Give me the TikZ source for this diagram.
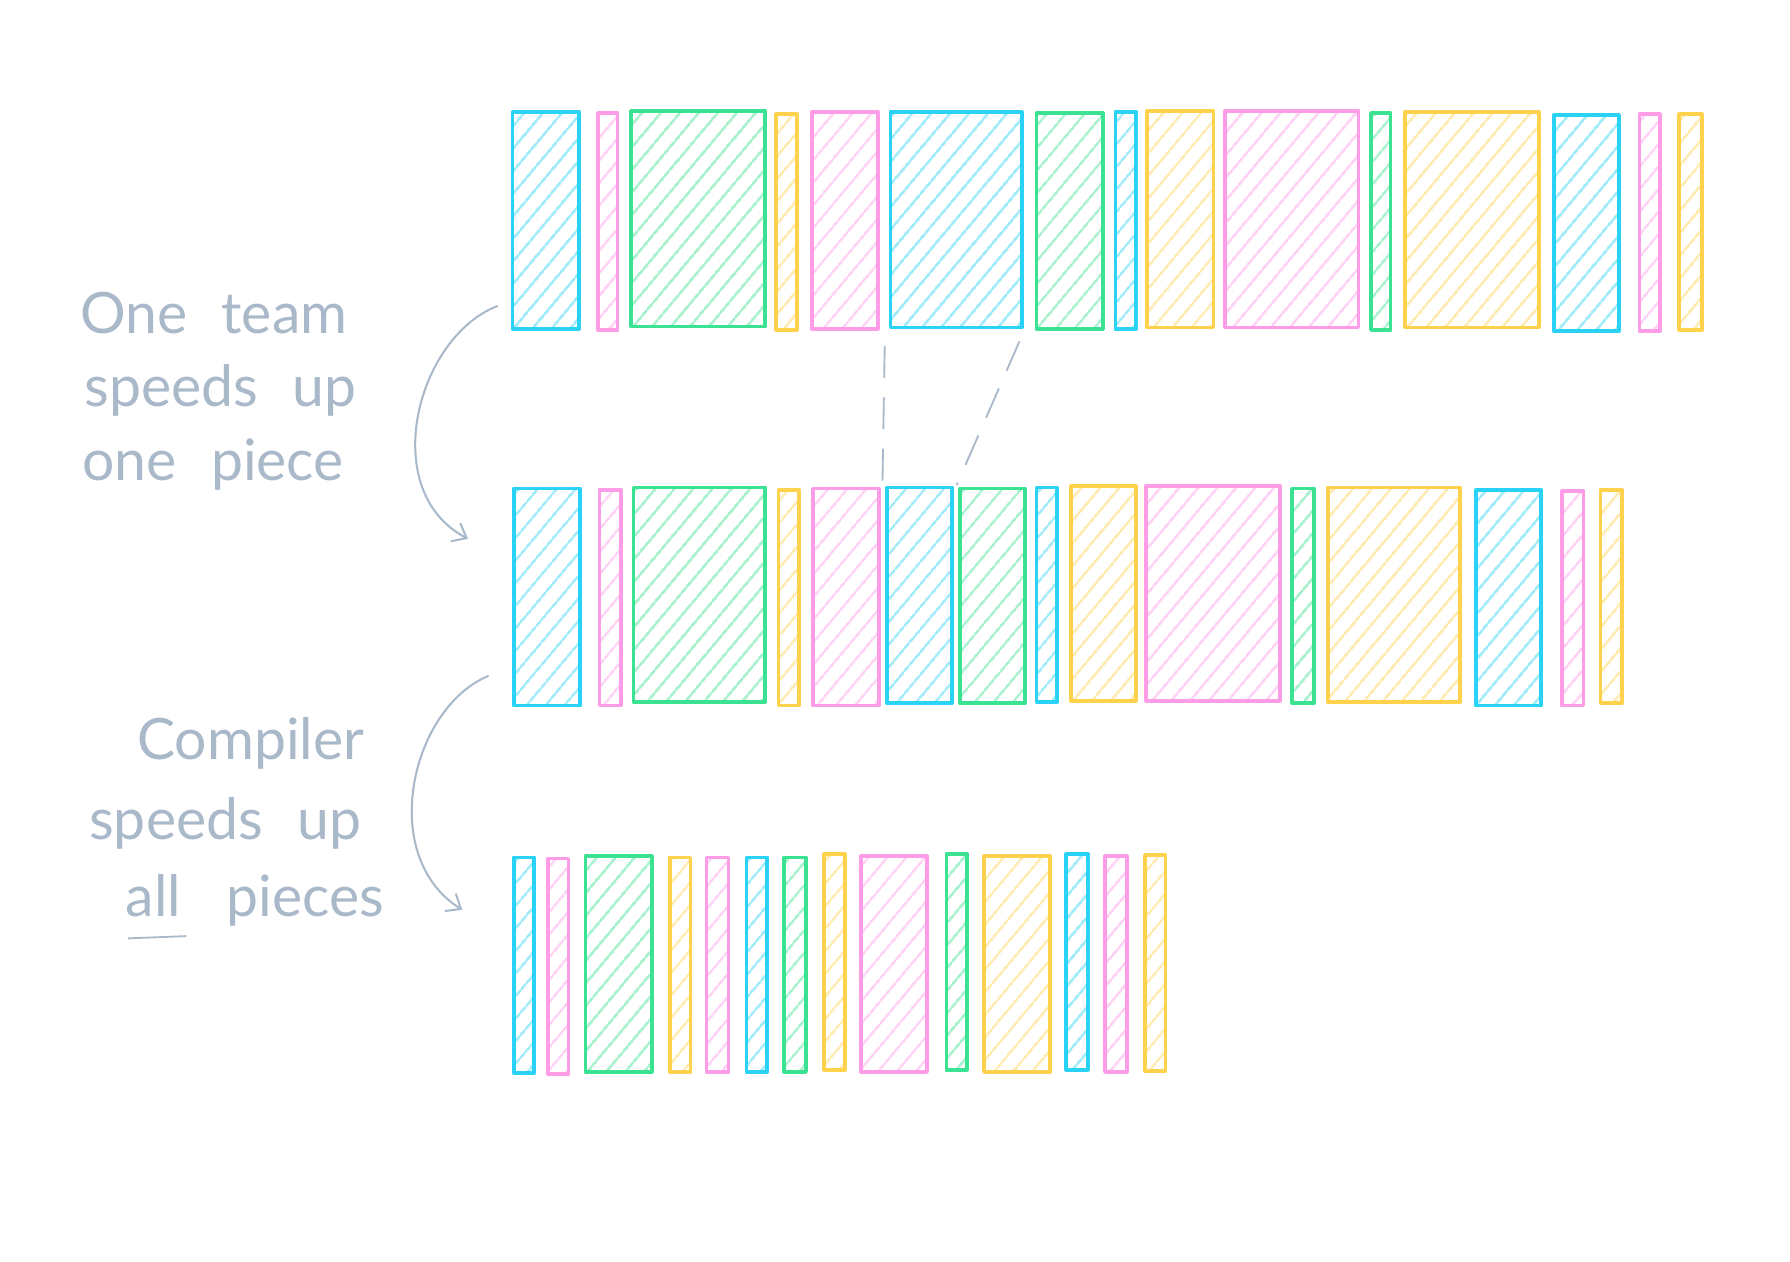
\documentclass[tikz,border=0pt]{standalone}
\usepackage{fontspec}
\setmainfont{Lato}
\usetikzlibrary{patterns.meta,arrows.meta,fit}
\definecolor{cb}{HTML}{2AD3F5}
\definecolor{cp}{HTML}{FF9CE8}
\definecolor{cg}{HTML}{3BE291}
\definecolor{cy}{HTML}{FFD24D}
\definecolor{cgr}{HTML}{A9B9C9}
\tikzset{
  bar/.style={draw=#1, line width=3.2pt, line join=round,
    pattern={Lines[angle=50,distance=13pt,line width=2.4pt]},
    pattern color=#1!45!white, inner sep=0pt, outer sep=0pt},
  note/.style={text=cgr, font=\fontsize{50}{60}\selectfont, inner sep=0pt, anchor=base west},
  dashline/.style={draw=cgr, line width=1.6pt, dash pattern=on 28pt off 17pt},
  curvearrow/.style={draw=cgr, line width=1.8pt, -{Straight Barb[length=11pt,width=18pt,line width=1.8pt]}},
}
\newcommand\mybox[6]{\node[bar=#2, fit={(#3,#4) (#5,#6)}] (#1) {};}
\begin{document}
\begin{tikzpicture}[x=1pt,y=-1pt]
\useasboundingbox[fill=white] (0,0) rectangle (1568,1105);
% Row 1
\mybox{a1}{cb}{449}{98}{507}{288}
\mybox{a2}{cp}{524}{99}{541}{289}
\mybox{a3}{cg}{553}{97}{670}{286}
\mybox{a4}{cy}{680}{100}{698}{289}
\mybox{a5}{cp}{711}{98}{769}{288}
\mybox{a6}{cb}{780}{98}{895}{287}
\mybox{a7}{cg}{908}{99}{966}{288}
\mybox{a8}{cb}{977}{98}{995}{288}
\mybox{a9}{cy}{1005}{97}{1063}{287}
\mybox{a10}{cp}{1073}{97}{1190}{287}
\mybox{a11}{cg}{1201}{99}{1218}{289}
\mybox{a12}{cy}{1231}{98}{1348}{287}
\mybox{a13}{cb}{1361}{101}{1418}{290}
\mybox{a14}{cp}{1436}{100}{1454}{290}
\mybox{a15}{cy}{1471}{100}{1491}{289}
% Row 2
\mybox{b1}{cb}{450}{428}{508}{618}
\mybox{b2}{cp}{525}{429}{544}{618}
\mybox{b3}{cg}{555}{427}{670}{615}
\mybox{b4}{cy}{682}{429}{700}{618}
\mybox{b5}{cp}{712}{428}{770}{618}
\mybox{b6}{cb}{777}{427}{834}{616}
\mybox{b7}{cg}{841}{428}{898}{616}
\mybox{b8}{cb}{908}{427}{926}{615}
\mybox{b9}{cy}{938}{426}{995}{614}
\mybox{b10}{cp}{1004}{426}{1121}{614}
\mybox{b11}{cg}{1132}{428}{1151}{616}
\mybox{b12}{cy}{1163}{427}{1279}{615}
\mybox{b13}{cb}{1293}{429}{1350}{618}
\mybox{b14}{cp}{1368}{430}{1387}{618}
\mybox{b15}{cy}{1402}{429}{1421}{616}
% Row 3
\mybox{c1}{cb}{450}{751}{468}{940}
\mybox{c2}{cp}{480}{752}{498}{941}
\mybox{c3}{cg}{513}{750}{571}{939}
\mybox{c4}{cy}{587}{751}{605}{939}
\mybox{c5}{cp}{619}{751}{638}{939}
\mybox{c6}{cb}{654}{751}{672}{939}
\mybox{c7}{cg}{687}{751}{706}{939}
\mybox{c8}{cy}{722}{748}{740}{937}
\mybox{c9}{cp}{754}{750}{812}{939}
\mybox{c10}{cg}{829}{748}{847}{937}
\mybox{c11}{cy}{862}{750}{920}{939}
\mybox{c12}{cb}{934}{748}{953}{937}
\mybox{c13}{cp}{968}{750}{987}{939}
\mybox{c14}{cy}{1003}{749}{1021}{938}
% dashed connectors
\draw[dashline] ([xshift=-5pt,yshift=-16pt]a6.south west) -- ([xshift=-4pt,yshift=4pt]b6.north west);
\draw[dashline] ([xshift=-2pt,yshift=-12pt]a6.south east) -- ([xshift=4pt,yshift=2pt]b6.north east);
% labels
\node[note] (t1) at (70,292) {One\hspace{0.6em}team};
\node[note] (t2) at (74,356) {speeds\hspace{0.6em}up};
\node[note] (t3) at (72,421) {one\hspace{0.6em}piece};
\node[note] (u1) at (120,665) {Compiler};
\node[note] (u2) at (78,735) {speeds\hspace{0.6em}up};
\node[note] (u3) at (110,803) {all\hspace{0.8em}pieces};
\coordinate (ul1) at (112,822);
\coordinate (ul2) at (163,820);
\draw[cgr, line width=1.6pt] (ul1) -- (ul2);
% curved arrows
\coordinate (s1) at (436,268);
\coordinate (e1) at (410,472);
\coordinate (s2) at (428,592);
\coordinate (e2) at (405,797);
\draw[curvearrow] (s1) .. controls (365,295) and (330,430) .. (e1);
\draw[curvearrow] (s2) .. controls (360,620) and (330,750) .. (e2);
\end{tikzpicture}
\end{document}
